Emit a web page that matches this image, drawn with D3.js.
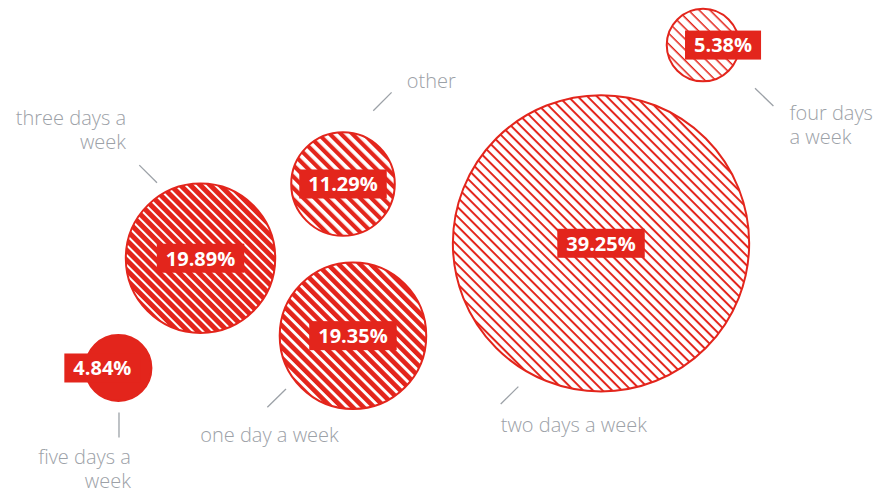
<!DOCTYPE html>
<html>
<head>
<meta charset="utf-8">
<script src="https://cdn.jsdelivr.net/npm/d3@7"></script>
<style>
  html, body { margin: 0; padding: 0; background: #fff; }
  svg { display: block; }
</style>
</head>
<body>
<div id="chart"></div>
<script>
// Share of respondents by preferred number of days per week
const categories = ["three days a week", "one day a week", "other", "two days a week", "four days a week", "five days a week"];
const shares = [19.89, 19.35, 11.29, 39.25, 5.38, 4.84];
const labelLines = [["three days a", "week"], ["one day a week"], ["other"], ["two days a week"], ["four days", "a week"], ["five days a", "week"]];

const W = 890, H = 490;
const RED = "#e3251c", GREY = "#9ca1a7";

// Layout in percent of the canvas, mapped to pixels through scales
const px = d3.scaleLinear().domain([0, 100]).range([0, W]);
const py = d3.scaleLinear().domain([0, 100]).range([0, H]);

const layout = {
  "three days a week": { cx: 22.53, cy: 52.7, boxDx: 0,
    text: { x: 14.16, y: 25.6, anchor: "end" }, leader: [15.65, 33.7, 17.64, 37.3] },
  "one day a week": { cx: 39.66, cy: 68.5, boxDx: 0,
    text: { x: 22.5, y: 90.3, anchor: "start" }, leader: [32.13, 79.4, 30.04, 83.1] },
  "other": { cx: 38.54, cy: 37.55, boxDx: 0,
    text: { x: 45.7, y: 17.9, anchor: "start" }, leader: [44.0, 18.85, 41.94, 22.6] },
  "two days a week": { cx: 67.53, cy: 49.65, boxDx: 0,
    text: { x: 56.26, y: 88.1, anchor: "start" }, leader: [58.24, 78.9, 56.26, 82.45] },
  "four days a week": { cx: 78.99, cy: 9.2, boxDx: 2.25,
    text: { x: 88.7, y: 24.5, anchor: "start" }, leader: [84.83, 18.0, 86.9, 21.65] },
  "five days a week": { cx: 13.3, cy: 75.1, boxDx: -1.8,
    text: { x: 14.7, y: 94.7, anchor: "end" }, leader: [13.37, 84.2, 13.37, 89.3] }
};

// Fill treatment per category: stripe colour on a background, or solid
const fills = {
  "three days a week": { bg: RED, stripe: "#fff", width: 2.0, period: 7.0 },
  "one day a week":    { bg: RED, stripe: "#fff", width: 2.9, period: 7.6 },
  "other":             { bg: RED, stripe: "#fff", width: 3.8, period: 8.0 },
  "two days a week":   { bg: "#fff", stripe: RED, width: 2.0, period: 6.8 },
  "four days a week":  { bg: "#fff", stripe: RED, width: 1.5, period: 7.6 },
  "five days a week":  { bg: RED, stripe: null }
};

// Bubble radius scale
const r = d3.scaleLinear().domain([4, 6, 11, 20, 40]).range([28, 40, 51, 75, 151]);

const data = categories.map((c, i) => ({ name: c, value: shares[i], lines: labelLines[i], id: "f" + i }));

const svg = d3.select("#chart").append("svg").attr("width", W).attr("height", H);
const defs = svg.append("defs");

data.forEach(d => {
  const f = fills[d.name];
  if (!f.stripe) return;
  const p = defs.append("pattern")
    .attr("id", d.id)
    .attr("patternUnits", "userSpaceOnUse")
    .attr("width", f.period).attr("height", f.period)
    .attr("patternTransform", "rotate(45)");
  p.append("rect").attr("width", f.period).attr("height", f.period).attr("fill", f.bg);
  p.append("rect").attr("y", 0).attr("width", f.period).attr("height", f.width).attr("fill", f.stripe);
});

const font = "'Open Sans', 'DejaVu Sans', sans-serif";
const LINE = 23.5;

// Leader lines
svg.append("g").selectAll("line").data(data).join("line")
  .attr("x1", d => px(layout[d.name].leader[0]))
  .attr("y1", d => py(layout[d.name].leader[1]))
  .attr("x2", d => px(layout[d.name].leader[2]))
  .attr("y2", d => py(layout[d.name].leader[3]))
  .attr("stroke", GREY).attr("stroke-width", 1.3);

// Category labels, one text element per line
const labelRows = data.flatMap(d => d.lines.map((t, i) => ({ t, i, d })));
svg.append("g").selectAll("text").data(labelRows).join("text")
  .attr("x", o => px(layout[o.d.name].text.x))
  .attr("y", o => py(layout[o.d.name].text.y) + o.i * LINE)
  .attr("text-anchor", o => layout[o.d.name].text.anchor)
  .attr("font-family", font).attr("font-weight", 300)
  .attr("font-size", 20).attr("fill", GREY)
  .text(o => o.t);

// Bubbles
const bub = svg.append("g").selectAll("g").data(data).join("g")
  .attr("transform", d => `translate(${px(layout[d.name].cx)},${py(layout[d.name].cy)})`);

bub.append("circle")
  .attr("r", d => r(d.value))
  .attr("fill", d => fills[d.name].stripe ? `url(#${d.id})` : RED)
  .attr("stroke", RED).attr("stroke-width", 2);

// Value tags
bub.each(function (d) {
  const g = d3.select(this);
  const dx = px(layout[d.name].boxDx);
  const rect = g.append("rect").attr("fill", RED);
  const t = g.append("text")
    .attr("x", dx).attr("y", 7.3)
    .attr("text-anchor", "middle")
    .attr("font-family", font).attr("font-weight", 700)
    .attr("font-size", 20).attr("fill", "#fff")
    .text(d3.format(".2f")(d.value) + "%");
  const w = t.node().getComputedTextLength() + 18;
  rect.attr("x", dx - w / 2).attr("y", -14.5).attr("width", w).attr("height", 29);
});
</script>
</body>
</html>
